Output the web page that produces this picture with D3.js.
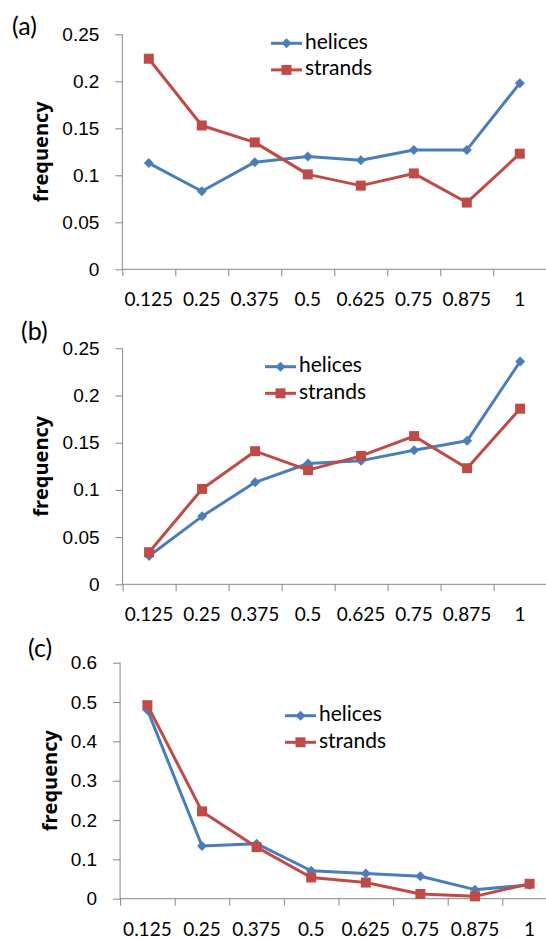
<!DOCTYPE html>
<html>
<head>
<meta charset="utf-8">
<script src="https://cdn.jsdelivr.net/npm/d3@7"></script>
<style>
	body { margin: 0; background: #fff; }
	svg { display: block; font-family: Lato, 'Open Sans', sans-serif; }
</style>
</head>
<body>
<svg id="canvas"></svg>
<script>
// categories (x axis)
const categories = ['0.125', '0.25', '0.375', '0.5', '0.625', '0.75', '0.875', '1'];
const seriesNames = ['helices', 'strands'];

// panel (a)
const helicesA = [0.113, 0.083, 0.114, 0.120, 0.116, 0.127, 0.127, 0.198];
const strandsA = [0.224, 0.153, 0.135, 0.101, 0.089, 0.102, 0.071, 0.123];
// panel (b)
const helicesB = [0.030, 0.072, 0.108, 0.128, 0.131, 0.142, 0.152, 0.236];
const strandsB = [0.034, 0.101, 0.141, 0.121, 0.136, 0.157, 0.123, 0.186];
// panel (c)
const helicesC = [0.480, 0.134, 0.140, 0.071, 0.064, 0.057, 0.023, 0.035];
const strandsC = [0.492, 0.222, 0.131, 0.054, 0.041, 0.012, 0.006, 0.038];

// y tick values
const yTicksAB = [0, 0.05, 0.1, 0.15, 0.2, 0.25];
const yTicksC = [0, 0.1, 0.2, 0.3, 0.4, 0.5, 0.6];

const w = 546;
const h = 939;
const blue = '#4a7ebb';
const red = '#be4b48';
const axisColor = '#868686';

const svg = d3.select('#canvas').attr('width', w).attr('height', h);

//panel layout
const panels = [
	{ label: '(a)', helices: helicesA, strands: strandsA, ticks: yTicksAB,
		left: 122.3, band: 53, top: 34.3, bottom: 269.3,
		labelX: 12, labelY: 29, freqX: 43, legX: 271, legY: 43.3 },
	{ label: '(b)', helices: helicesB, strands: strandsB, ticks: yTicksAB,
		left: 122.6, band: 53, top: 348.3, bottom: 584.3,
		labelX: 21, labelY: 334, freqX: 43, legX: 265, legY: 366.7 },
	{ label: '(c)', helices: helicesC, strands: strandsC, ticks: yTicksC,
		left: 120.1, band: 54.6, top: 662.7, bottom: 898.7,
		labelX: 28, labelY: 651, freqX: 52, legX: 285, legY: 715.7 }
];

panels.forEach((p) => {
	const xScale = d3
		.scaleBand()
		.domain(categories)
		.range([ p.left, p.left + p.band * categories.length ])
		.padding(0);

	const yScale = d3
		.scaleLinear()
		.domain([ 0, d3.max(p.ticks) ])
		.range([ p.bottom, p.top ]);

	const g = svg.append('g');

	//y axis
	const yAxis = d3
		.axisLeft(yScale)
		.tickValues(p.ticks)
		.tickSize(7)
		.tickPadding(16)
		.tickFormat((d) => String(+d.toFixed(2)));
	const ya = g.append('g').attr('transform', 'translate(' + p.left + ',0)').call(yAxis);
	ya.select('.domain').attr('stroke', axisColor).attr('d', 'M0,' + p.top + 'V' + p.bottom);
	ya.selectAll('.tick line').attr('stroke', axisColor);
	ya.selectAll('.tick text').attr('fill', '#000').style('font-size', '19px');

	//x axis: ticks on band boundaries
	const xa = g.append('g').attr('transform', 'translate(0,' + p.bottom + ')');
	xa.append('line')
		.attr('x1', p.left)
		.attr('x2', p.left + p.band * categories.length)
		.attr('stroke', axisColor);
	xa.selectAll('line.tk')
		.data(categories)
		.enter()
		.append('line')
		.attr('class', 'tk')
		.attr('x1', (d) => xScale(d) + 0.5)
		.attr('x2', (d) => xScale(d) + 0.5)
		.attr('y1', 0)
		.attr('y2', 7)
		.attr('stroke', axisColor);
	xa.selectAll('text')
		.data(categories)
		.enter()
		.append('text')
		.attr('x', (d) => xScale(d) + xScale.bandwidth() / 2)
		.attr('y', 37)
		.attr('text-anchor', 'middle')
		.style('font-size', '19px')
		.text((d) => d);

	//axis title
	g.append('text')
		.attr('transform', 'translate(' + p.freqX + ',' + (p.top + p.bottom) / 2 + ') rotate(-90)')
		.attr('text-anchor', 'middle')
		.attr('dominant-baseline', 'middle')
		.style('font-family', "'Open Sans', sans-serif")
		.style('font-size', '20px')
		.style('font-weight', 'bold')
		.text('frequency');

	//panel label
	g.append('text')
		.attr('x', p.labelX)
		.attr('y', p.labelY)
		.attr('dominant-baseline', 'middle')
		.style('font-size', '25px')
		.text(p.label);

	const line = d3
		.line()
		.x((d, i) => xScale(categories[i]) + xScale.bandwidth() / 2)
		.y((d) => yScale(d));

	const series = [
		{ name: seriesNames[0], values: p.helices, color: blue, symbol: 'diamond' },
		{ name: seriesNames[1], values: p.strands, color: red, symbol: 'square' }
	];

	const markerPath = (s) =>
		s.symbol === 'diamond'
			? 'M0,-5L5,0L0,5L-5,0Z'
			: d3.symbol(d3.symbolSquare, 100)();

	series.forEach((s) => {
		g.append('path')
			.attr('d', line(s.values))
			.attr('fill', 'none')
			.attr('stroke', s.color)
			.attr('stroke-width', 3)
			.attr('stroke-linejoin', 'round');
		g.selectAll('path.m-' + s.symbol)
			.data(s.values)
			.enter()
			.append('path')
			.attr('class', 'm-' + s.symbol)
			.attr('d', markerPath(s))
			.attr('transform', (d, i) =>
				'translate(' + (xScale(categories[i]) + xScale.bandwidth() / 2) + ',' + yScale(d) + ')')
			.attr('fill', s.color);
	});

	//legend
	series.forEach((s, i) => {
		const ly = p.legY + i * 26.6;
		const lg = g.append('g').attr('transform', 'translate(' + p.legX + ',' + ly + ')');
		lg.append('line').attr('x1', 0).attr('x2', 31).attr('stroke', s.color).attr('stroke-width', 3);
		lg.append('path').attr('d', markerPath(s)).attr('transform', 'translate(15.5,0)').attr('fill', s.color);
		lg.append('text')
			.attr('x', 34)
			.attr('dominant-baseline', 'middle')
			.style('font-size', '21px')
			.text(s.name);
	});
});
</script>
</body>
</html>
